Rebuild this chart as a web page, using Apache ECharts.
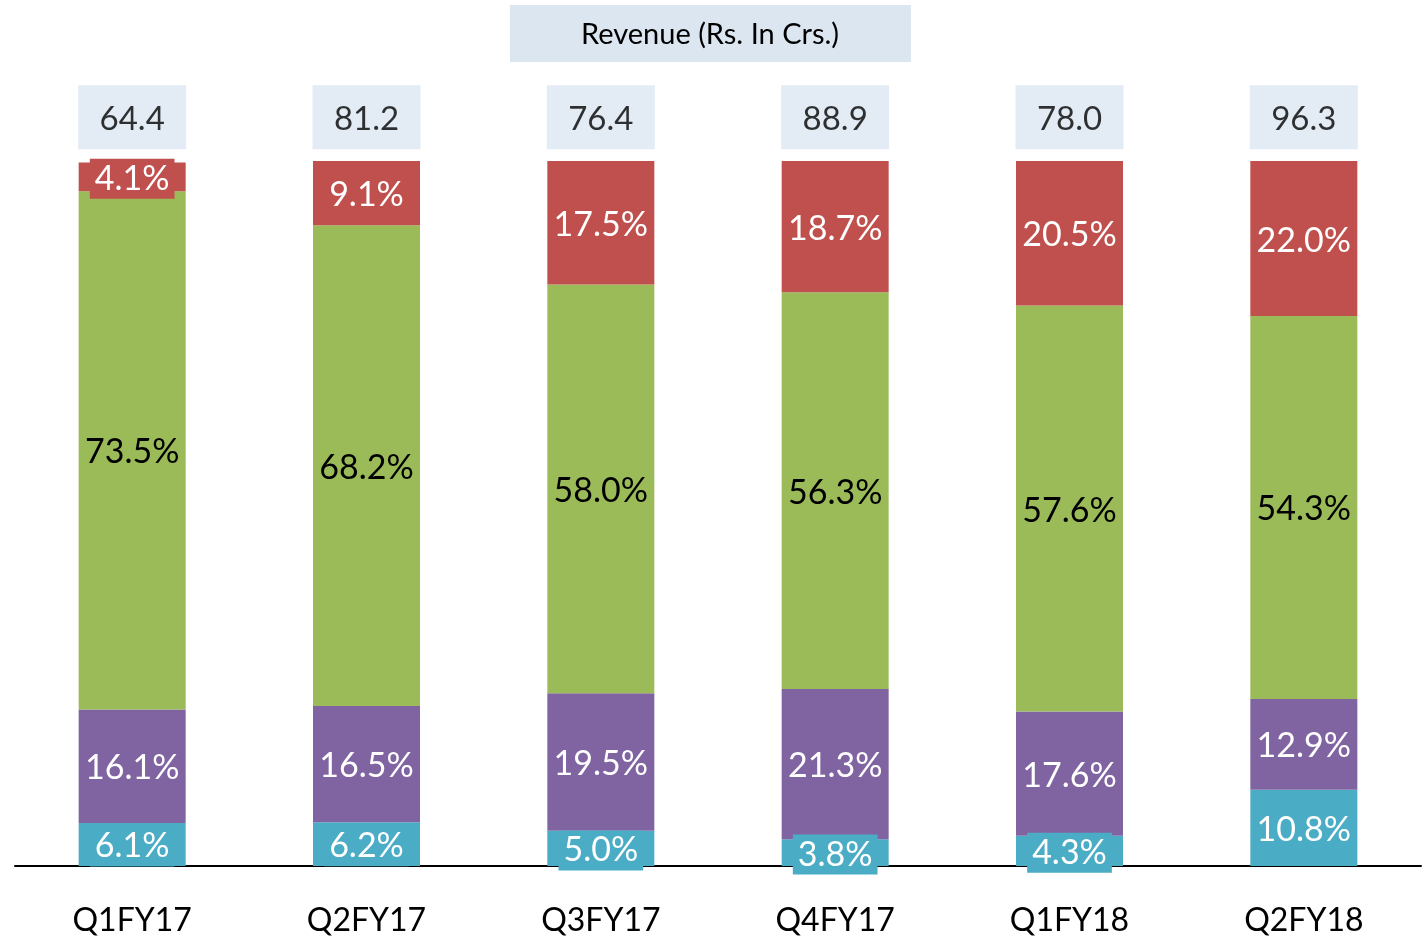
<!DOCTYPE html>
<html>
<head>
<meta charset="utf-8">
<script src="https://cdn.jsdelivr.net/npm/echarts@6/dist/echarts.min.js"></script>
<style>
  html, body { margin: 0; padding: 0; background: #fff; }
  #chart { width: 1426px; height: 937px; }
</style>
</head>
<body>
<div id="chart"></div>
<script>
// quarters and revenue mix (% of total), bottom to top of each bar
const quarters = ['Q1FY17', 'Q2FY17', 'Q3FY17', 'Q4FY17', 'Q1FY18', 'Q2FY18'];
const cyanShare   = [6.1, 6.2, 5.0, 3.8, 4.3, 10.8];
const purpleShare = [16.1, 16.5, 19.5, 21.3, 17.6, 12.9];
const greenShare  = [73.5, 68.2, 58.0, 56.3, 57.6, 54.3];
const redShare    = [4.1, 9.1, 17.5, 18.7, 20.5, 22.0];
// total revenue, Rs. in Crs.
const totals = [64.4, 81.2, 76.4, 88.9, 78.0, 96.3];

const font = 'Lato';
const BOX_LEVEL = 106.2; // where the total boxes sit, in axis units

function segment(name, data, color, textColor) {
    return {
        name: name,
        type: 'bar',
        stack: 'mix',
        barWidth: 107,
        data: data,
        itemStyle: { color: color },
        label: {
            show: true,
            position: 'inside',
            offset: [0, 2],
            formatter: p => p.value.toFixed(1) + '%',
            color: textColor,
            fontFamily: font,
            fontSize: 34,
            backgroundColor: color,
            padding: [4, 5, 2, 5]
        }
    };
}

let ec = echarts.init(document.getElementById('chart'));
ec.setOption({
    animation: false,
    backgroundColor: '#ffffff',
    grid: { left: 15, right: 5, top: 161, bottom: 71 },
    xAxis: {
        type: 'category',
        data: quarters,
        axisLine: { lineStyle: { color: '#000', width: 2 } },
        axisTick: { show: false },
        axisLabel: { color: '#000', fontFamily: font, fontSize: 32, margin: 39 }
    },
    yAxis: {
        type: 'value',
        min: 0,
        max: 100,
        show: false,
        splitLine: { show: false }
    },
    graphic: [{
        type: 'group',
        left: 510,
        top: 5,
        children: [
            { type: 'rect', shape: { x: 0, y: 0, width: 401, height: 57 }, style: { fill: '#DCE6F1' } },
            { type: 'text', x: 200, y: 30, style: {
                text: 'Revenue (Rs. In Crs.)', fill: '#000', font: '29px ' + font,
                align: 'center', verticalAlign: 'middle' } }
        ]
    }],
    series: [
        segment('cyan', cyanShare, '#4BACC6', '#fff'),
        segment('purple', purpleShare, '#8064A2', '#fff'),
        segment('green', greenShare, '#9BBB59', '#000'),
        segment('red', redShare, '#C0504D', '#fff'),
        {
            name: 'total',
            type: 'scatter',
            clip: false,
            symbol: 'rect',
            symbolSize: [108, 64],
            itemStyle: { color: '#DCE6F1' },
            data: totals.map((v, i) => [i, BOX_LEVEL, v]),
            label: {
                show: true,
                position: 'inside',
                offset: [0, 2],
                formatter: p => p.value[2].toFixed(1),
                color: '#000',
                fontFamily: font,
                fontSize: 33
            }
        }
    ]
});
</script>
</body>
</html>
